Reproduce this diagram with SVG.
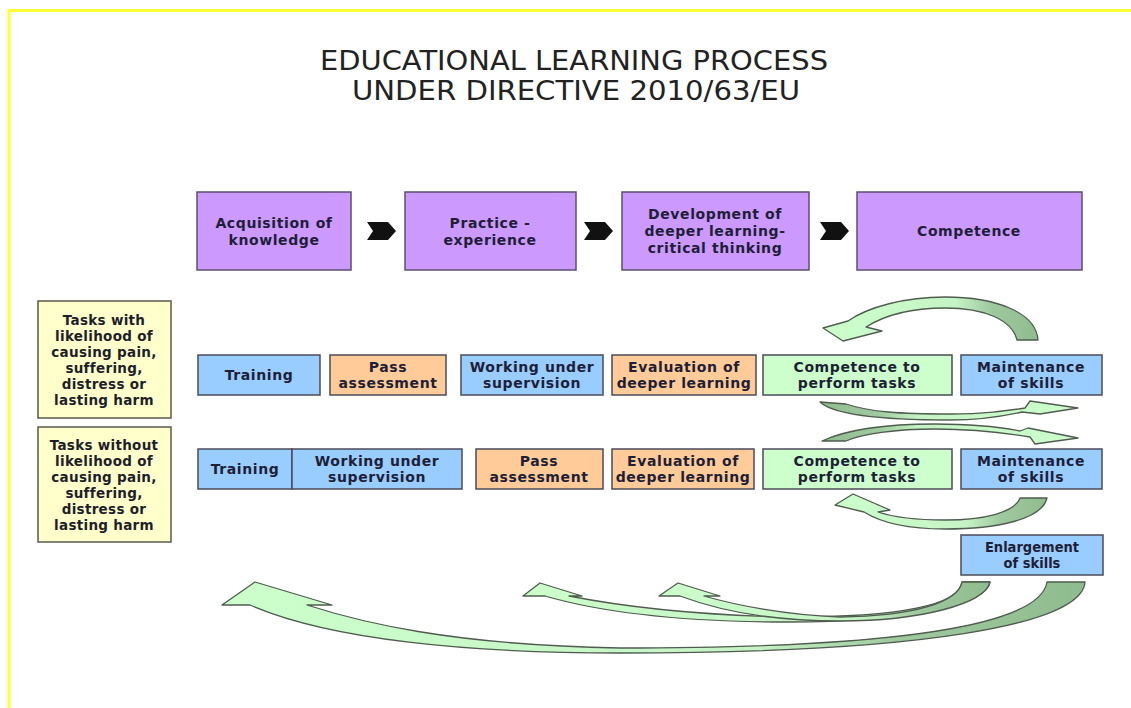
<svg xmlns="http://www.w3.org/2000/svg" xmlns:xlink="http://www.w3.org/1999/xlink" width="1131" height="708" viewBox="0 0 1131 708">
  <defs>
    <style>
      .box { stroke: #4b4b5a; stroke-width: 1.5; }
      .purple { fill: #cc99ff; stroke: #5e4f70; }
      .blue { fill: #99ccff; }
      .orange { fill: #ffcc99; }
      .green { fill: #ccffcc; }
      .yellow { fill: #ffffcc; stroke: #5a5a50; }
      .lbl { font-family: "DejaVu Sans", Verdana, sans-serif; font-weight: bold; font-size: 14px; letter-spacing: 0.6px; fill: #1e1e36; text-anchor: middle; }
      .side { font-family: "DejaVu Sans", Verdana, sans-serif; font-weight: bold; font-size: 13.5px; letter-spacing: 0.3px; fill: #1e1e2a; text-anchor: middle; }
      .cond { font-family: "DejaVu Sans Condensed", "DejaVu Sans", sans-serif; font-weight: bold; font-size: 14.5px; fill: #1e1e36; text-anchor: middle; }
      .title { font-family: "DejaVu Sans", Tahoma, sans-serif; font-size: 27px; fill: #222; text-anchor: middle; }
      .chev { fill: #111; }
      .curve { stroke: #4f5c4f; stroke-width: 1.3; stroke-linejoin: round; }
    </style>
    <linearGradient id="gBase">
      <stop offset="0" stop-color="#8fbc8f"/>
      <stop offset="0.22" stop-color="#9fc99f"/>
      <stop offset="0.38" stop-color="#c6f3c6"/>
      <stop offset="1" stop-color="#ccffcc"/>
    </linearGradient>
    <linearGradient id="gA" href="#gBase" gradientUnits="userSpaceOnUse" x1="1038" y1="0" x2="823" y2="0"/>
    <linearGradient id="gB" href="#gBase" gradientUnits="userSpaceOnUse" x1="820" y1="0" x2="1078" y2="0"/>
    <linearGradient id="gC" href="#gBase" gradientUnits="userSpaceOnUse" x1="822" y1="0" x2="1078" y2="0"/>
    <linearGradient id="gD" href="#gBase" gradientUnits="userSpaceOnUse" x1="1047" y1="0" x2="835" y2="0"/>
    <linearGradient id="gE" href="#gBase" gradientUnits="userSpaceOnUse" x1="1085" y1="0" x2="222" y2="0"/>
    <linearGradient id="gF" href="#gBase" gradientUnits="userSpaceOnUse" x1="990" y1="0" x2="523" y2="0"/>
    <linearGradient id="gG" href="#gBase" gradientUnits="userSpaceOnUse" x1="990" y1="0" x2="659" y2="0"/>
    <polygon id="chevron" points="0,0 21,0 29,9 21,18 0,18 6,9"/>
  </defs>

  <rect width="1131" height="708" fill="#ffffff"/>
  <!-- yellow frame lines -->
  <line x1="8" y1="10.5" x2="1131" y2="10.5" stroke="#ffff33" stroke-width="3"/>
  <line x1="9" y1="10" x2="9" y2="708" stroke="#ffff33" stroke-width="3"/>

  <!-- title -->
  <g id="title">
    <text class="title" x="574" y="70" textLength="508" lengthAdjust="spacingAndGlyphs">EDUCATIONAL LEARNING PROCESS</text>
    <text class="title" x="576" y="100" textLength="448" lengthAdjust="spacingAndGlyphs">UNDER DIRECTIVE 2010/63/EU</text>
  </g>

  <!-- stage row -->
  <g id="stage-acquisition">
    <rect class="box purple" x="197" y="192" width="154" height="78"/>
    <text class="lbl" x="274" y="228">Acquisition of</text>
    <text class="lbl" x="274" y="245">knowledge</text>
  </g>
  <g id="stage-practice">
    <rect class="box purple" x="405" y="192" width="171" height="78"/>
    <text class="lbl" x="490" y="228">Practice -</text>
    <text class="lbl" x="490" y="245">experience</text>
  </g>
  <g id="stage-development">
    <rect class="box purple" x="622" y="192" width="187" height="78"/>
    <text class="lbl" x="715" y="219">Development of</text>
    <text class="lbl" x="715" y="236">deeper learning-</text>
    <text class="lbl" x="715" y="253">critical thinking</text>
  </g>
  <g id="stage-competence">
    <rect class="box purple" x="857" y="192" width="225" height="78"/>
    <text class="lbl" x="969" y="236">Competence</text>
  </g>

  <!-- side category boxes -->
  <g id="cat-harm">
    <rect class="box yellow" x="38" y="301" width="133" height="117"/>
    <text class="side" x="104" y="325">Tasks with</text>
    <text class="side" x="104" y="341">likelihood of</text>
    <text class="side" x="104" y="357">causing pain,</text>
    <text class="side" x="104" y="373">suffering,</text>
    <text class="side" x="104" y="389">distress or</text>
    <text class="side" x="104" y="405">lasting harm</text>
  </g>
  <g id="cat-noharm">
    <rect class="box yellow" x="38" y="427" width="133" height="115"/>
    <text class="side" x="104" y="450">Tasks without</text>
    <text class="side" x="104" y="466">likelihood of</text>
    <text class="side" x="104" y="482">causing pain,</text>
    <text class="side" x="104" y="498">suffering,</text>
    <text class="side" x="104" y="514">distress or</text>
    <text class="side" x="104" y="530">lasting harm</text>
  </g>

  <!-- row 1 -->
  <g id="r1-training">
    <rect class="box blue" x="198" y="355" width="122" height="40"/>
    <text class="lbl" x="259" y="380">Training</text>
  </g>
  <g id="r1-pass">
    <rect class="box orange" x="330" y="355" width="116" height="40"/>
    <text class="lbl" x="388" y="372">Pass</text>
    <text class="lbl" x="388" y="388">assessment</text>
  </g>
  <g id="r1-working">
    <rect class="box blue" x="461" y="355" width="142" height="40"/>
    <text class="lbl" x="532" y="372">Working under</text>
    <text class="lbl" x="532" y="388">supervision</text>
  </g>
  <g id="r1-evaluation">
    <rect class="box orange" x="612" y="355" width="144" height="40"/>
    <text class="lbl" x="684" y="372">Evaluation of</text>
    <text class="lbl" x="684" y="388">deeper learning</text>
  </g>
  <g id="r1-competence">
    <rect class="box green" x="763" y="355" width="189" height="40"/>
    <text class="lbl" x="857" y="372">Competence to</text>
    <text class="lbl" x="857" y="388">perform tasks</text>
  </g>
  <g id="r1-maintenance">
    <rect class="box blue" x="961" y="355" width="141" height="40"/>
    <text class="lbl" x="1031" y="372">Maintenance</text>
    <text class="lbl" x="1031" y="388">of skills</text>
  </g>

  <!-- row 2 -->
  <g id="r2-training">
    <rect class="box blue" x="198" y="449" width="94" height="40"/>
    <text class="lbl" x="245" y="474">Training</text>
  </g>
  <g id="r2-working">
    <rect class="box blue" x="292" y="449" width="170" height="40"/>
    <text class="lbl" x="377" y="466">Working under</text>
    <text class="lbl" x="377" y="482">supervision</text>
  </g>
  <g id="r2-pass">
    <rect class="box orange" x="476" y="449" width="127" height="40"/>
    <text class="lbl" x="539" y="466">Pass</text>
    <text class="lbl" x="539" y="482">assessment</text>
  </g>
  <g id="r2-evaluation">
    <rect class="box orange" x="612" y="449" width="142" height="40"/>
    <text class="lbl" x="683" y="466">Evaluation of</text>
    <text class="lbl" x="683" y="482">deeper learning</text>
  </g>
  <g id="r2-competence">
    <rect class="box green" x="763" y="449" width="189" height="40"/>
    <text class="lbl" x="857" y="466">Competence to</text>
    <text class="lbl" x="857" y="482">perform tasks</text>
  </g>
  <g id="r2-maintenance">
    <rect class="box blue" x="961" y="449" width="141" height="40"/>
    <text class="lbl" x="1031" y="466">Maintenance</text>
    <text class="lbl" x="1031" y="482">of skills</text>
  </g>

  <g id="enlargement">
    <rect class="box blue" x="961" y="535" width="142" height="40"/>
    <text class="cond" x="1032" y="552">Enlargement</text>
    <text class="cond" x="1032" y="568">of skills</text>
  </g>

  <!-- connectors -->
  <g id="connectors">
    <use href="#chevron" class="chev" x="367" y="222"/>
    <use href="#chevron" class="chev" x="584" y="222"/>
    <use href="#chevron" class="chev" x="820" y="222"/>

    <!-- loop above row 1 -->
    <path class="curve" fill="url(#gA)" d="M1017,340 L1038,340 C1036,312 995,297 945,297 C905,297 868,307 848,321 L823,328 L843,341 L882,331 L866,327 C885,315 910,308 945,308 C985,308 1012,320 1017,340 Z"/>
    <!-- between the rows -->
    <path class="curve" fill="url(#gB)" d="M820,402 L846,404 C870,412 900,414 950,414 C985,414 1005,411 1025,408 L1030,401 L1078,408 L1040,414 L1022,412 C1000,417 980,420 950,420 C890,420 835,416 820,402 Z"/>
    <path class="curve" fill="url(#gC)" d="M822,441 C850,428 890,424 935,424 C975,424 1000,427 1020,431 L1028,428 L1078,438 L1035,444 L1030,437 C1000,432 970,429 935,429 C895,429 862,434 846,441 Z"/>
    <!-- loop below row 2 -->
    <path class="curve" fill="url(#gD)" d="M1020,498 L1047,498 C1042,520 995,529 945,529 C905,529 880,522 864,512 L835,505 L853,494 L890,510 L878,512 C893,517 915,520 945,520 C985,520 1015,512 1020,498 Z"/>

    <!-- return arrows from enlargement -->
    <path class="curve" fill="url(#gE)" d="M1047,582 L1085,582 C1082,625 920,653 620,653 C470,653 330,640 250,605 L222,605 L255,582 L332,605 L307,605 C360,622 450,645 620,648 C900,648 1040,625 1047,582 Z"/>
    <path class="curve" fill="url(#gF)" d="M962,582 L990,582 C988,605 900,622 790,622 C680,622 600,612 545,596 L523,596 L540,583 L582,596 L569,596 C615,605 690,615 790,617 C900,617 960,605 962,582 Z"/>
    <path class="curve" fill="url(#gG)" d="M962,582 L990,582 C985,604 920,621 840,621 C770,621 720,611 680,596 L659,596 L678,583 L720,596 L704,596 C735,605 785,615 840,617 C915,616 958,602 962,582 Z"/>
  </g>
</svg>
